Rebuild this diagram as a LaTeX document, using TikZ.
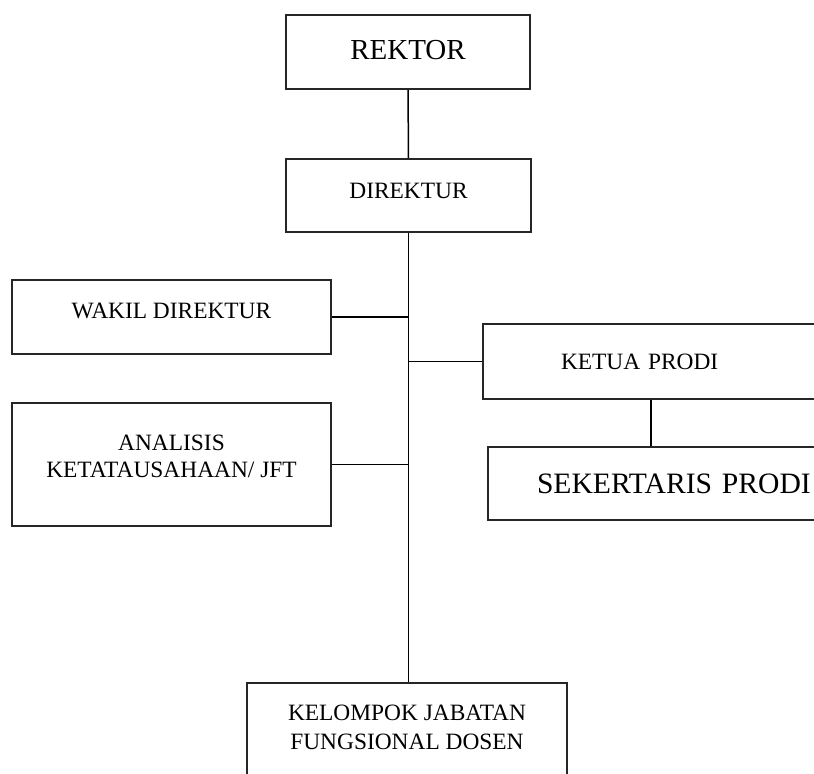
\documentclass[tikz,border=0pt]{standalone}
\usepackage{fontspec}
\setmainfont{Liberation Serif}
\usepackage{xcolor}
\usepackage{tikz}

\begin{document}
\begin{tikzpicture}[x=0.5pt, y=-0.5pt,
    kotak/.style={draw=black!85, line width=1pt, inner sep=0pt, align=center,
      font=\fontsize{11.7}{14}\selectfont},
    garis/.style={draw=black, line width=0.75pt}]
      \useasboundingbox (0,0) rectangle (814,774);
      \clip (0,0) rectangle (814,774);

      % Pimpinan
      \node[kotak, minimum width=122pt, minimum height=37pt, font=\fontsize{14.5}{17}\selectfont, text depth=2pt] (rektor) at (408,52) {REKTOR};
      \node[kotak, minimum width=122.5pt, minimum height=36.5pt, text depth=4.5pt, below of=rektor, node distance=71.75pt, xshift=0.25pt] (direktur) {DIREKTUR};

      % Unit di kiri
      \node[kotak, minimum width=159.5pt, minimum height=37pt, text depth=6pt, below of=direktur, node distance=60.75pt, xshift=-118.5pt] (wakil) {WAKIL DIREKTUR};
      \node[kotak, minimum width=159.5pt, minimum height=61.5pt, font=\fontsize{11.7}{13.5}\selectfont, text depth=8.5pt, below of=wakil, node distance=73.75pt] (analisis) {ANALISIS\\KETATAUSAHAAN/ JFT};

      % Unit di kanan
      \node[kotak, align=left, text width=90pt, inner xsep=39pt, minimum height=37.5pt, below of=direktur, node distance=83pt, xshift=121.25pt] (ketua) {KETUA PRODI};
      \node[kotak, align=left, text width=145pt, inner xsep=24.5pt, minimum height=36.5pt, font=\fontsize{14.8}{17}\selectfont, below of=ketua, node distance=61pt, xshift=15.5pt] (sekretaris) {SEKERTARIS PRODI};

      % Dosen
      \node[kotak, minimum width=160pt, inner ysep=11pt, text depth=35pt, font=\fontsize{11.7}{14.5}\selectfont, below of=direktur, node distance=243.25pt, xshift=-0.75pt, anchor=north] (kelompok) {KELOMPOK JABATAN\\FUNGSIONAL DOSEN};

      % Garis komando
      \draw[garis] (rektor) -- (direktur);
      \draw[garis] (direktur.south) -- (direktur.south |- kelompok.north);
      \draw[garis] (wakil.east) -- (wakil.east -| direktur.south);
      \draw[garis] (analisis.east) -- (analisis.east -| direktur.south);
      \draw[garis] (ketua.west) -- (ketua.west -| direktur.south);
      \draw[garis] (ketua.south) -- (ketua.south |- sekretaris.north);
    \end{tikzpicture}
\end{document}
